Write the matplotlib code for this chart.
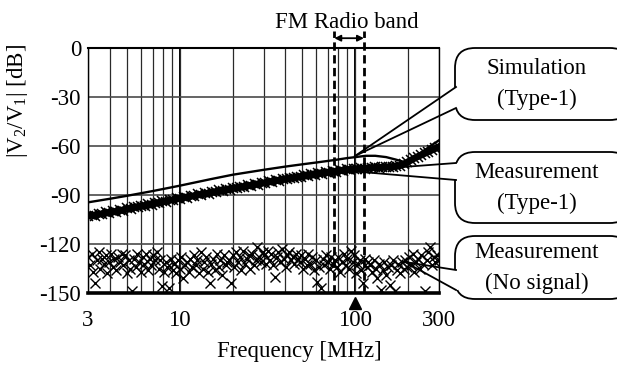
import numpy as np
import matplotlib
matplotlib.use("Agg")
import matplotlib.pyplot as plt
import matplotlib.transforms as mtransforms
from matplotlib.patches import FancyBboxPatch, Polygon
from matplotlib.lines import Line2D
from matplotlib.ticker import LogLocator, NullFormatter

plt.rcParams['font.family'] = ['Liberation Serif', 'DejaVu Serif']
plt.rcParams['mathtext.fontset'] = 'custom'
plt.rcParams['mathtext.rm'] = 'Liberation Serif'
plt.rcParams['mathtext.it'] = 'Liberation Serif:italic'
plt.rcParams['axes.unicode_minus'] = False

W, H = 617, 365
FS = 16.5

# simulation (Type-1)
sim_freq = [3, 4, 5, 7, 10, 15, 20, 30, 40, 50, 60, 76, 90, 100, 115, 130,
            150, 170, 190, 210, 230, 260, 300]
sim_db = [-94.5, -92.3, -90.5, -87.6, -84.3, -80.3, -77.6, -74.6, -72.6, -71.2,
          -70.1, -68.6, -67.4, -66.8, -66.0, -66.0, -66.8, -68.3, -69.8, -68.0,
          -65.0, -61.0, -56.5]

# measurement (Type-1), log sweep 3-300 MHz
meas_freq = np.geomspace(3, 300, 100)
meas_db = [-103.0, -102.2, -102.9, -101.5, -101.8, -100.6, -101.2, -100.0, -100.4, -99.2,
           -99.5, -98.2, -98.6, -97.3, -97.6, -96.5, -96.9, -95.6, -95.9, -94.7,
           -95.0, -93.9, -94.1, -92.9, -93.2, -92.0, -92.4, -91.2, -91.6, -90.5,
           -90.8, -89.6, -90.0, -88.9, -89.2, -88.0, -88.4, -87.2, -87.6, -86.5,
           -86.7, -85.5, -85.9, -84.8, -85.2, -84.0, -84.4, -83.2, -83.6, -82.5,
           -82.8, -81.7, -82.0, -80.9, -81.3, -80.2, -80.5, -79.4, -79.8, -78.7,
           -79.0, -77.9, -78.3, -77.3, -77.6, -76.6, -76.9, -76.0, -76.3, -75.4,
           -75.7, -74.8, -75.1, -74.3, -74.6, -73.8, -74.1, -73.6, -73.9, -73.3,
           -73.5, -73.1, -73.3, -72.9, -73.0, -72.6, -72.7, -72.2, -72.0, -71.2,
           -70.0, -68.8, -67.6, -66.5, -65.5, -64.5, -63.5, -62.5, -61.5, -60.5]

# measurement (no signal), log sweep 3-300 MHz
noise_freq = np.geomspace(3, 300, 200)
noise_db = [-128, -133, -126, -137, -144, -130, -125, -135, -129, -132,
            -127, -138, -131, -126, -134, -129, -136, -128, -131, -126,
            -133, -127, -138, -130, -135, -149, -129, -134, -126, -131,
            -137, -128, -132, -126, -136, -129, -133, -127, -130, -125,
            -135, -130, -146, -137, -131, -134, -147, -129, -136, -132,
            -138, -130, -135, -128, -141, -133, -131, -137, -129, -134,
            -127, -133, -130, -138, -125, -135, -131, -128, -137, -144,
            -132, -129, -136, -126, -134, -130, -139, -127, -133, -131,
            -130, -144, -127, -134, -125, -131, -128, -136, -124, -132,
            -129, -127, -135, -126, -133, -130, -122, -128, -131, -125,
            -127, -132, -124, -130, -126, -133, -140, -128, -125, -131,
            -123, -129, -134, -127, -125, -130, -128, -132, -126, -129,
            -131, -127, -135, -129, -133, -126, -132, -128, -136, -130,
            -143, -134, -147, -129, -133, -127, -131, -135, -128, -132,
            -130, -134, -128, -137, -131, -126, -133, -129, -135, -124,
            -131, -127, -138, -132, -130, -136, -144, -129, -134, -131,
            -133, -137, -130, -135, -141, -132, -148, -136, -131, -139,
            -134, -145, -133, -130, -149, -136, -132, -138, -131, -135,
            -130, -134, -128, -133, -126, -137, -131, -129, -135, -127,
            -132, -149, -130, -125, -122, -133, -128, -131, -127, -130]

fm_band = (76, 112)
marker_freq = 100

fig = plt.figure(figsize=(W / 100, H / 100), dpi=100)
ax = fig.add_axes([88 / W, 1 - 293 / H, (439 - 88) / W, (293 - 48) / H])

ax.set_xscale('log')
ax.set_xlim(3, 300)
ax.set_ylim(-150, 0)
ax.set_xticks([3, 10, 100, 300])
ax.set_xticklabels(['3', '10', '100', '300'])
ax.xaxis.set_minor_locator(LogLocator(base=10, subs=np.arange(2, 10), numticks=20))
ax.xaxis.set_minor_formatter(NullFormatter())
ax.set_yticks(np.arange(-150, 1, 30))
ax.tick_params(which='both', length=0, labelsize=FS)
ax.tick_params(axis='x', pad=12)
ax.tick_params(axis='y', pad=5)
ax.grid(True, which='both', axis='x', color='#2a2a2a', lw=0.9)
ax.grid(True, which='major', axis='y', color='#4a4a4a', lw=1.2)
ax.set_axisbelow(True)
for f in (10, 100):
    ax.axvline(f, color='black', lw=1.4, zorder=0.5)
ax.spines['top'].set_linewidth(1.5)
ax.spines['bottom'].set_linewidth(2.6)
ax.spines['left'].set_linewidth(1.0)
ax.spines['right'].set_linewidth(1.0)

ax.plot(noise_freq, noise_db, ls='none', marker='x', ms=7, mew=1.0, color='black', zorder=3)
ax.plot(meas_freq, meas_db, color='black', lw=5, zorder=3)
ax.plot(meas_freq, meas_db, ls='none', marker='x', ms=7, mew=1.1, color='black', zorder=3)
ax.plot(sim_freq, sim_db, color='black', lw=1.7, zorder=4)

# FM radio band
for f in fm_band:
    ax.plot([f, f], [-150, 10.5], color='black', lw=2.0, ls=(0, (3, 1.6)),
            clip_on=False, zorder=5)
ax.annotate('', xy=(fm_band[0], 6.0), xytext=(fm_band[1], 6.0),
            arrowprops=dict(arrowstyle='<|-|>', color='black', lw=1.3,
                            shrinkA=0, shrinkB=0, mutation_scale=9),
            annotation_clip=False)
ax.plot([marker_freq], [-156], marker='^', ms=8.5, color='black', clip_on=False)

fig.text(347 / W, 1 - 22 / H, 'FM Radio band', ha='center', va='center', fontsize=FS)
fig.text(299 / W, 1 - 352 / H, 'Frequency [MHz]', ha='center', va='center', fontsize=FS)
fig.text(18 / W, 1 - 101 / H, r'|V$_2$/V$_1$| [dB]', ha='center', va='center',
         rotation=90, fontsize=FS)

# callouts in pixel coordinates (y measured from top)
pix = mtransforms.Affine2D().scale(1 / W, 1 / H) + fig.transFigure


def callout(top, bottom, lines, tip, base):
    x0 = 455
    box = FancyBboxPatch((x0, H - bottom), 175, bottom - top,
                         boxstyle='round,pad=0,rounding_size=20',
                         transform=pix, facecolor='white', edgecolor='black',
                         lw=1.3, zorder=10, clip_on=False)
    fig.add_artist(box)
    b1, b2 = base
    # open the box edge where the pointer joins it
    gap = Polygon([(x0 - 2, H - b1), (x0 + 3, H - b1), (x0 + 3, H - b2), (x0 - 2, H - b2)],
                  closed=True, transform=pix, facecolor='white', edgecolor='none', zorder=11)
    fig.add_artist(gap)
    for b in base:
        fig.add_artist(Line2D([tip[0], x0 + 1], [H - tip[1], H - b], transform=pix,
                              color='black', lw=1.3, zorder=12))
    ycen = (top + bottom) / 2
    fig.text(537 / W, 1 - (ycen - 15.5) / H, lines[0], ha='center', va='center',
             fontsize=FS, zorder=13)
    fig.text(537 / W, 1 - (ycen + 15.5) / H, lines[1], ha='center', va='center',
             fontsize=FS, zorder=13)


callout(48, 120, ('Simulation', '(Type-1)'), (355, 156), (87, 108))
callout(152, 223, ('Measurement', '(Type-1)'), (350, 171), (163, 180))
callout(236, 299, ('Measurement', '(No signal)'), (405, 262), (270, 290))

fig.savefig('out.png', dpi=100)
